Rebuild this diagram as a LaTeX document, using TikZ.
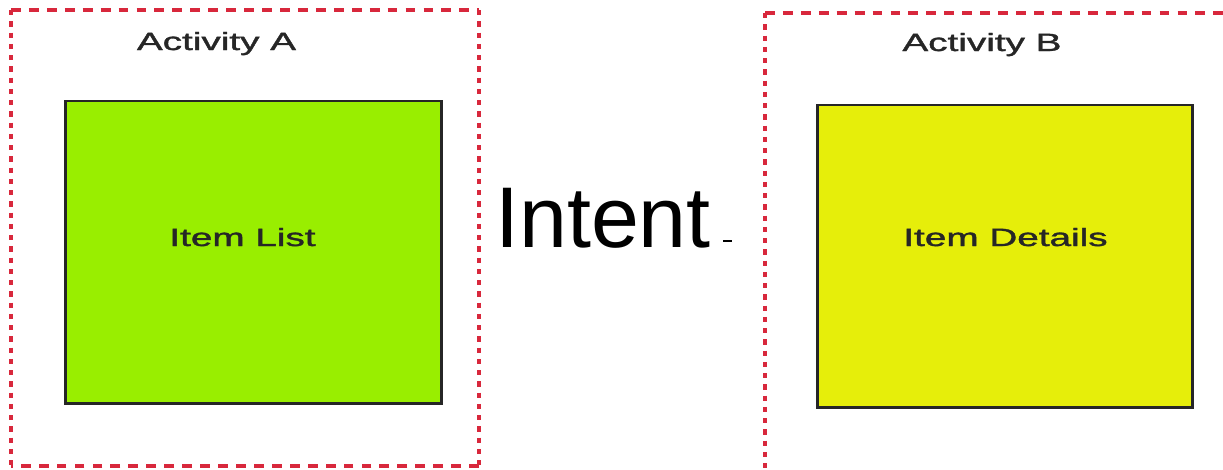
\documentclass[tikz,border=0pt]{standalone}
\usepackage{fontspec}
\setmainfont{Liberation Sans}
\newfontfamily\lblfont[FakeBold=1.2]{Liberation Sans}
\usetikzlibrary{positioning}
\definecolor{FrameRed}{HTML}{D8283C}
\definecolor{ListGreen}{HTML}{99EE00}
\definecolor{DetailYellow}{HTML}{E6EE0A}
\tikzset{
  hedge/.style={draw=FrameRed, line width=1pt, dash pattern=on 2.8pt off 2.3pt},
  vedge/.style={draw=FrameRed, line width=1pt, dash pattern=on 1.5pt off 1.7pt},
  screen/.style={draw=black!85, line width=0.8pt, minimum width=3.75cm, minimum height=3.02cm, inner sep=0pt},
  lbl/.style={font=\lblfont\fontsize{7.1}{8.5}\selectfont, text=black!85, xscale=1.55, transform shape, anchor=base, inner sep=0pt}
}
\begin{document}
\begin{tikzpicture}[x=0.01cm, y=-0.01cm]
  \path[use as bounding box, clip] (0,0) rectangle (1223,469);

  % activity frames
  \coordinate (aNW) at (11,10);
  \coordinate (aSE) at (479,466);
  \coordinate (bNW) at (765,13);
  \coordinate (bSE) at (1232,480);
  \draw[hedge] (aNW) -- (aNW -| aSE);
  \draw[hedge] (aSE) -- (aSE -| aNW);
  \draw[vedge] (aNW) -- (aSE -| aNW);
  \draw[vedge] (aNW -| aSE) -- (aSE);
  \draw[hedge] (bNW) -- (bNW -| bSE);
  \draw[vedge] (bNW) -- (bSE -| bNW);

  \node[lbl] (actA) at (216.5,50) {Activity A};
  \node[lbl] (actB) at (982,51) {Activity B};

  % screens
  \node[screen, fill=ListGreen] (list) at (253.5,252) {};
  \node[screen, fill=DetailYellow] (details) at (1005,256) {};
  \node[lbl] (listlbl) at (242.5,246) {Item List};
  \node[lbl] (detailslbl) at (1005.5,246) {Item Details};

  % intent
  \node[font=\fontsize{24.5}{29}\selectfont, anchor=base, inner sep=0pt] (intent) at (603,247) {Intent};
  \coordinate (tick) at (723,241);
  \draw[line width=0.6pt] (tick) -- ++(9,0);
\end{tikzpicture}
\end{document}
